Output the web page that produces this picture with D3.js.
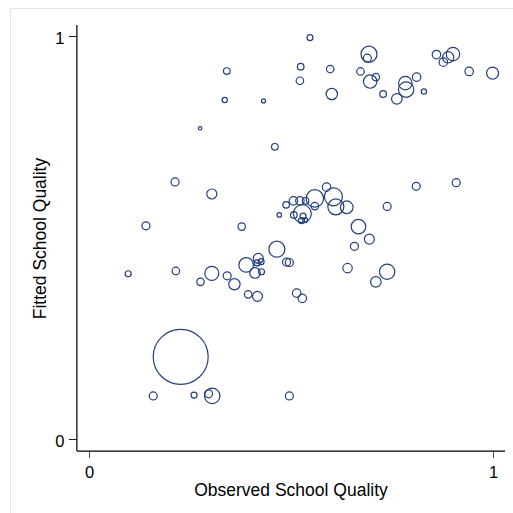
<!DOCTYPE html>
<html>
<head>
<meta charset="utf-8">
<script src="https://cdn.jsdelivr.net/npm/d3@7"></script>
<style>
  body { margin: 0; background: #fff; }
  text { font-family: "Liberation Sans", Arial, sans-serif; fill: #000; }
</style>
</head>
<body>
<div id="chart"></div>
<script>
// --- Données ---
const observed = [
  .547, .341, .524, .597, .522, .693, .689, .672, .710, .696,
  .601, .728, .762, .783, .785, .811, .829, .860, .877, .889,
  .901, .941, .999, .336, .432, .275, .460, .213, .304, .141,
  .378, .471, .488, .506, .522, .536, .559, .588, .605, .611,
  .638, .559, .528, .507, .530, .526, .535, .667, .694, .657,
  .738, .810, .909, .465, .489, .496, .640, .738, .710, .514,
  .528, .097, .215, .304, .276, .342, .360, .389, .411, .419,
  .416, .426, .427, .394, .417, .227, .159, .260, .305, .296,
  .496
];
const fitted = [
  .996, .913, .924, .918, .889, .955, .945, .912, .898, .887,
  .856, .856, .844, .883, .867, .898, .862, .954, .935, .947,
  .955, .912, .908, .841, .839, .771, .725, .638, .608, .529,
  .527, .556, .581, .591, .591, .591, .597, .625, .601, .576,
  .575, .578, .559, .556, .553, .542, .543, .527, .496, .478,
  .577, .627, .636, .471, .439, .438, .424, .415, .390, .362,
  .349, .410, .417, .411, .390, .405, .384, .432, .412, .448,
  .437, .440, .415, .359, .354, .204, .107, .109, .107, .112,
  .107
];
// poids (effectifs) : surface du cercle proportionnelle
const weight = [
  9, 11, 11, 14, 14, 64, 16, 14, 14, 45,
  32, 11, 28, 45, 59, 18, 7, 18, 18, 32,
  45, 18, 36, 7, 4, 3, 11, 16, 25, 16,
  14, 5, 11, 18, 18, 11, 76, 18, 81, 64,
  40, 14, 81, 11, 9, 9, 6, 53, 25, 16,
  16, 16, 16, 64, 16, 16, 22, 59, 28, 18,
  18, 9, 14, 49, 14, 16, 32, 53, 28, 25,
  9, 9, 9, 14, 25, 756, 16, 9, 59, 16,
  16
];
const xTicks = [0, 1];
const yTicks = [0, 1];
const xAxisExtent = [-0.03, 1.03];
const yAxisExtent = [-0.027, 1.027];

const points = observed.map((d, i) => ({ x: d, y: fitted[i], w: weight[i] }));

// --- Configuration ---
const W = 513, H = 513;
const color = "#243f7c";

const svg = d3.select("#chart").append("svg")
  .attr("width", W).attr("height", H);

// cadre
svg.append("rect")
  .attr("x", 10.5).attr("y", 8.5)
  .attr("width", 600).attr("height", 600)
  .attr("fill", "none").attr("stroke", "#e4e4ef");

const x = d3.scaleLinear().domain([0, 1]).range([89, 493]);
const y = d3.scaleLinear().domain([0, 1]).range([439, 36]);
const r = d3.scaleSqrt().domain([0, d3.max(weight)]).range([0, 27.5]);

// Axes
const xAxisY = y(xAxisExtent[0]);
const yAxisX = x(xAxisExtent[0]);

svg.append("g")
  .attr("transform", `translate(0,${xAxisY})`)
  .call(d3.axisBottom(x).tickValues(xTicks).tickSize(7).tickPadding(8).tickFormat(d3.format("d")))
  .call(g => g.select(".domain").remove())
  .call(g => g.selectAll(".tick line").attr("stroke", "#555"))
  .call(g => g.selectAll(".tick text").style("font-size", "16.5px").attr("fill", "#000"));

svg.append("g")
  .attr("transform", `translate(${yAxisX},0)`)
  .call(d3.axisLeft(y).tickValues(yTicks).tickSize(8).tickPadding(4.5).tickFormat(d3.format("d")))
  .call(g => g.select(".domain").remove())
  .call(g => g.selectAll(".tick line").attr("stroke", "#222"))
  .call(g => g.selectAll(".tick text").style("font-size", "16.5px").attr("fill", "#000").attr("dy", "0.45em"));

// lignes d'axe
svg.append("line")
  .attr("x1", x(xAxisExtent[0])).attr("x2", x(xAxisExtent[1]))
  .attr("y1", xAxisY).attr("y2", xAxisY)
  .attr("stroke", "#000").attr("stroke-width", 1.2);
svg.append("line")
  .attr("x1", yAxisX).attr("x2", yAxisX)
  .attr("y1", y(yAxisExtent[1])).attr("y2", xAxisY)
  .attr("stroke", "#000").attr("stroke-width", 1.2);

// Cercles
svg.append("g").selectAll("circle")
  .data(points)
  .join("circle")
  .attr("cx", d => x(d.x))
  .attr("cy", d => y(d.y))
  .attr("r", d => r(d.w))
  .attr("fill", "none")
  .attr("stroke", color)
  .attr("stroke-width", 1.2);

// Titres des axes
svg.append("text")
  .attr("x", (x(0) + x(1)) / 2)
  .attr("y", 496)
  .attr("text-anchor", "middle")
  .style("font-size", "17.5px")
  .text("Observed School Quality");

svg.append("text")
  .attr("transform", `translate(46,${(y(0) + y(1)) / 2 + 1}) rotate(-90)`)
  .attr("text-anchor", "middle")
  .style("font-size", "17.5px")
  .text("Fitted School Quality");
</script>
</body>
</html>
